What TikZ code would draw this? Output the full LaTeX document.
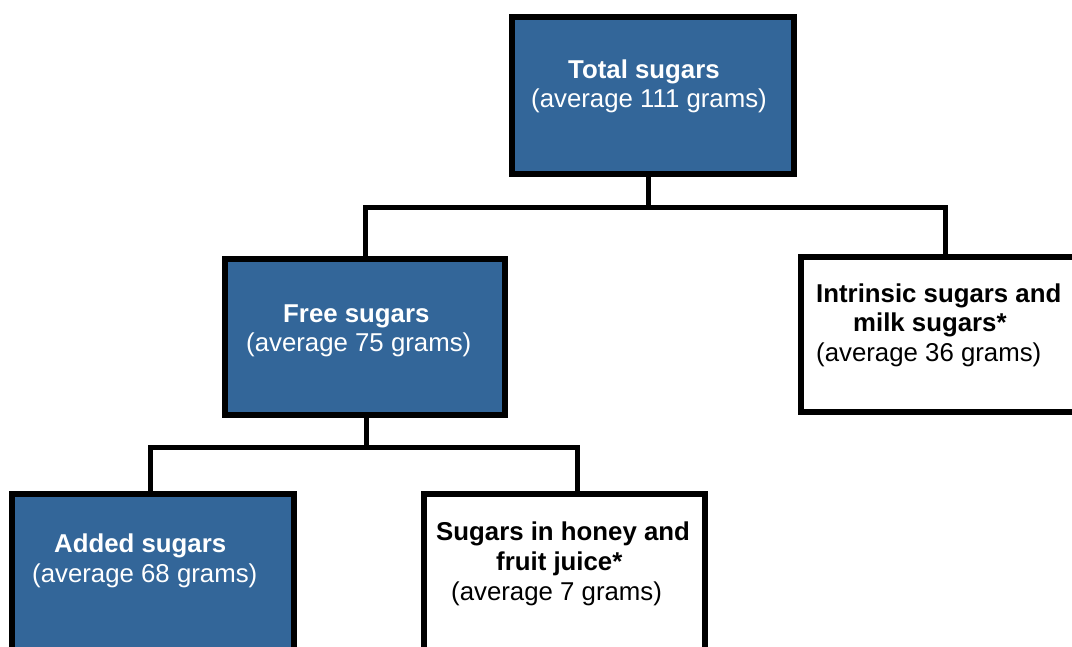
\documentclass[tikz,border=0pt]{standalone}
\usepackage{fontspec}
\setmainfont{Liberation Sans}
\definecolor{boxblue}{RGB}{51,102,153}
\tikzset{
  box/.style={draw=black, line width=6pt, rectangle, inner sep=0pt},
  bluebox/.style={box, fill=boxblue},
  whitebox/.style={box, fill=white},
  conn/.style={draw=black, line width=5pt, line join=miter},
  txt/.style={inner sep=0pt, anchor=base west, font=\fontsize{25.8}{30}\selectfont},
  wtxt/.style={txt, text=white},
  btxt/.style={txt, text=black},
}
\begin{document}
\begin{tikzpicture}[x=1pt,y=-1pt]
\useasboundingbox (0,0) rectangle (1072,646);
\clip (0,0) rectangle (1072,646);
% boxes
\node[bluebox, minimum width=282pt, minimum height=157pt] (tot) at (653,95.5) {};
\node[bluebox, minimum width=280pt, minimum height=156pt] (free) at (365,337) {};
\node[whitebox, minimum width=284pt, minimum height=155pt] (intr) at (943,334.5) {};
\node[bluebox, minimum width=282pt, minimum height=160pt] (added) at (153,574) {};
\node[whitebox, minimum width=281pt, minimum height=160pt] (honey) at (564.5,574) {};
% connectors
\draw[conn] ([xshift=-5pt]tot.south) -- ++(0,30) coordinate (j1);
\draw[conn] (free.north) |- (j1) -| ([xshift=2pt]intr.north);
\draw[conn] ([xshift=1pt]free.south) -- ++(0,29) coordinate (j2);
\draw[conn] ([xshift=-3pt]added.north) |- (j2) -| ([xshift=12.5pt]honey.north);
% texts
\node[wtxt] (t1) at (568,78) {\bfseries Total sugars};
\node[wtxt] (t2) at (531,107) {(average 111 grams)};
\node[wtxt] (f1) at (283,322) {\bfseries Free sugars};
\node[wtxt] (f2) at (246,351) {(average 75 grams)};
\node[btxt] (i1) at (816,302) {\bfseries Intrinsic sugars and};
\node[btxt] (i2) at (853,331) {\bfseries milk sugars*};
\node[btxt] (i3) at (816,361) {(average 36 grams)};
\node[wtxt] (a1) at (54,552) {\bfseries Added sugars};
\node[wtxt] (a2) at (32,582) {(average 68 grams)};
\node[btxt] (h1) at (436,540) {\bfseries Sugars in honey and};
\node[btxt] (h2) at (496,570) {\bfseries fruit juice*};
\node[btxt] (h3) at (451,600) {(average 7 grams)};
\end{tikzpicture}
\end{document}
